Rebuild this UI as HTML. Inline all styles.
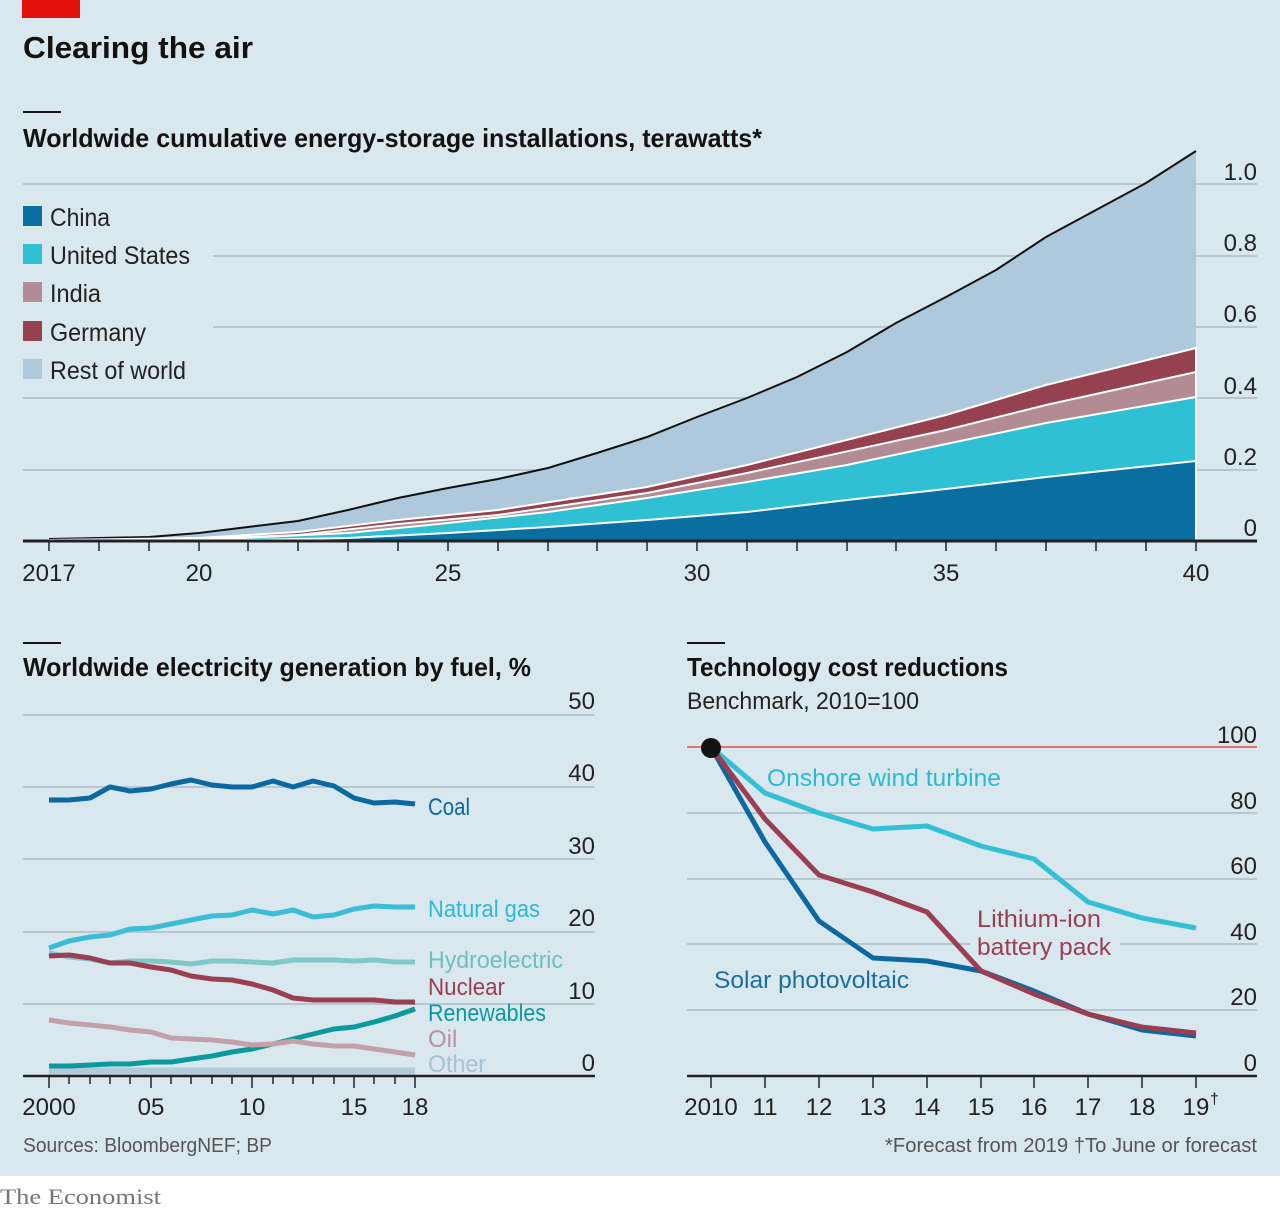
<!DOCTYPE html>
<html><head><meta charset="utf-8"><style>
html,body{margin:0;padding:0;background:#fff}
svg{display:block}
text{font-family:"Liberation Sans",sans-serif}
</style></head><body>
<svg width="1280" height="1212" viewBox="0 0 1280 1212" xmlns="http://www.w3.org/2000/svg">
<rect x="0" y="0" width="1280" height="1176" fill="#d9e7ef"/>
<rect x="22" y="0" width="58" height="18" fill="#e3120b"/>
<text x="23" y="58" font-size="31" font-weight="bold" fill="#121212" textLength="230" lengthAdjust="spacingAndGlyphs">Clearing the air</text>
<rect x="23" y="111" width="38" height="2" fill="#121212"/>
<text x="23" y="147" font-size="26" font-weight="bold" fill="#121212" textLength="739" lengthAdjust="spacingAndGlyphs">Worldwide cumulative energy-storage installations, terawatts*</text>

<g stroke="#b7c6cf" stroke-width="2">
<line x1="23" y1="184" x2="1257" y2="184"/>
<line x1="213" y1="256" x2="1257" y2="256"/>
<line x1="213" y1="327" x2="1257" y2="327"/>
<line x1="23" y1="398" x2="1257" y2="398"/>
<line x1="23" y1="470" x2="1257" y2="470"/>
</g>
<polygon fill="#aec9db" points="49,541 49,539 99,538 149,537 199,533 248,527 298,521 348,510 398,498 448,488 498,479 548,468 597,453 647,437 697,417 747,398 797,377 847,352 896,323 946,297 996,270 1046,237 1096,210 1146,183 1196,151 1196,541"/>
<polyline fill="none" stroke="#111" stroke-width="2" points="49,539 99,538 149,537 199,533 248,527 298,521 348,510 398,498 448,488 498,479 548,468 597,453 647,437 697,417 747,398 797,377 847,352 896,323 946,297 996,270 1046,237 1096,210 1146,183 1196,151"/>
<polygon fill="#95414f" stroke="#fff" stroke-width="2" points="49,541 49,540 199,538 298,532 398,520 498,510 647,487 747,465 946,415 1046,385 1196,348 1196,541"/>
<polygon fill="#b28b94" stroke="#fff" stroke-width="2" points="49,541 49,540 199,539 298,535 398,524 498,515 647,493 747,473 946,430 1046,405 1196,372 1196,541"/>
<polygon fill="#2fc0d3" stroke="#fff" stroke-width="2" points="49,541 199,540 348,533 448,523 548,512 647,498 747,482 847,465 946,444 1046,423 1196,397 1196,541"/>
<polygon fill="#0a6ea1" stroke="#fff" stroke-width="2" points="49,541 248,540 348,538 448,533 548,527 647,520 747,512 847,500 946,489 1046,477 1196,461 1196,541"/>
<line x1="23" y1="541" x2="1257" y2="541" stroke="#222" stroke-width="3"/>
<g stroke="#222" stroke-width="1.5">
<line x1="49" y1="541" x2="49" y2="551"/><line x1="99" y1="541" x2="99" y2="551"/><line x1="149" y1="541" x2="149" y2="551"/><line x1="199" y1="541" x2="199" y2="551"/><line x1="248" y1="541" x2="248" y2="551"/><line x1="298" y1="541" x2="298" y2="551"/><line x1="348" y1="541" x2="348" y2="551"/><line x1="398" y1="541" x2="398" y2="551"/><line x1="448" y1="541" x2="448" y2="551"/><line x1="498" y1="541" x2="498" y2="551"/><line x1="548" y1="541" x2="548" y2="551"/><line x1="597" y1="541" x2="597" y2="551"/><line x1="647" y1="541" x2="647" y2="551"/><line x1="697" y1="541" x2="697" y2="551"/><line x1="747" y1="541" x2="747" y2="551"/><line x1="797" y1="541" x2="797" y2="551"/><line x1="847" y1="541" x2="847" y2="551"/><line x1="896" y1="541" x2="896" y2="551"/><line x1="946" y1="541" x2="946" y2="551"/><line x1="996" y1="541" x2="996" y2="551"/><line x1="1046" y1="541" x2="1046" y2="551"/><line x1="1096" y1="541" x2="1096" y2="551"/><line x1="1146" y1="541" x2="1146" y2="551"/><line x1="1196" y1="541" x2="1196" y2="551"/>
</g>
<g font-size="24" fill="#222" text-anchor="end">
<text x="1257" y="180">1.0</text><text x="1257" y="251">0.8</text><text x="1257" y="322">0.6</text><text x="1257" y="394">0.4</text><text x="1257" y="465">0.2</text><text x="1257" y="536">0</text>
</g>
<g font-size="24" fill="#222" text-anchor="middle">
<text x="49" y="581">2017</text><text x="199" y="581">20</text><text x="448" y="581">25</text><text x="697" y="581">30</text><text x="946" y="581">35</text><text x="1196" y="581">40</text>
</g>
<rect x="23" y="206" width="19" height="20" fill="#0a6ea1"/>
<rect x="23" y="244" width="19" height="20" fill="#2fc0d3"/>
<rect x="23" y="282" width="19" height="20" fill="#b28b94"/>
<rect x="23" y="321" width="19" height="20" fill="#95414f"/>
<rect x="23" y="359" width="19" height="20" fill="#aec9db"/>
<g font-size="25" fill="#222">
<text x="50" y="226" textLength="60" lengthAdjust="spacingAndGlyphs">China</text>
<text x="50" y="264" textLength="140" lengthAdjust="spacingAndGlyphs">United States</text>
<text x="50" y="302" textLength="51" lengthAdjust="spacingAndGlyphs">India</text>
<text x="50" y="341" textLength="96" lengthAdjust="spacingAndGlyphs">Germany</text>
<text x="50" y="379" textLength="136" lengthAdjust="spacingAndGlyphs">Rest of world</text>
</g>

<rect x="23" y="642" width="38" height="2" fill="#121212"/>
<text x="23" y="676" font-size="26" font-weight="bold" fill="#121212" textLength="508" lengthAdjust="spacingAndGlyphs">Worldwide electricity generation by fuel, %</text>
<g stroke="#b7c6cf" stroke-width="2">
<line x1="23" y1="715" x2="595" y2="715"/><line x1="23" y1="787" x2="595" y2="787"/><line x1="23" y1="859" x2="595" y2="859"/><line x1="23" y1="932" x2="595" y2="932"/><line x1="23" y1="1004" x2="595" y2="1004"/>
</g>
<g font-size="24" fill="#222" text-anchor="end">
<text x="595" y="709">50</text><text x="595" y="781">40</text><text x="595" y="854">30</text><text x="595" y="926">20</text><text x="595" y="999">10</text><text x="595" y="1071">0</text>
</g>
<g fill="none" stroke-width="5" stroke-linejoin="round">
<polyline stroke="#b3cbd9" stroke-width="7" points="49,1071 415,1071"/>
<polyline stroke="#0b9a9b" points="49,1066 69,1066 90,1065 110,1064 130,1064 151,1062 171,1062 191,1059 212,1056 232,1052 252,1049 273,1044 293,1039 313,1034 334,1029 354,1027 374,1022 395,1016 415,1009"/>
<polyline stroke="#c4a0a9" points="49,1020 69,1023 90,1025 110,1027 130,1030 151,1032 171,1038 191,1039 212,1040 232,1042 252,1045 273,1044 293,1041 313,1044 334,1046 354,1046 374,1049 395,1052 415,1055"/>
<polyline stroke="#7fc9c8" points="49,953 69,957 90,959 110,963 130,961 151,961 171,962 191,964 212,961 232,961 252,962 273,963 293,960 313,960 334,960 354,961 374,960 395,962 415,962"/>
<polyline stroke="#9a3f52" points="49,956 69,955 90,958 110,963 130,963 151,967 171,970 191,976 212,979 232,980 252,984 273,990 293,998 313,1000 334,1000 354,1000 374,1000 395,1002 415,1002"/>
<polyline stroke="#3bbdd7" points="49,948 69,941 90,937 110,935 130,929 151,928 171,924 191,920 212,916 232,915 252,910 273,914 293,910 313,917 334,915 354,909 374,906 395,907 415,907"/>
<polyline stroke="#0b68a0" points="49,800 69,800 90,798 110,787 130,791 151,789 171,784 191,780 212,785 232,787 252,787 273,781 293,787 313,781 334,786 354,798 374,803 395,802 415,804"/>
</g>
<g font-size="24" lengthAdjust="spacingAndGlyphs">
<text x="428" y="815" fill="#0b68a0" textLength="42" lengthAdjust="spacingAndGlyphs">Coal</text>
<text x="428" y="917" fill="#2bbad4" textLength="112" lengthAdjust="spacingAndGlyphs">Natural gas</text>
<text x="428" y="968" fill="#6fbfbe" textLength="135" lengthAdjust="spacingAndGlyphs">Hydroelectric</text>
<text x="428" y="995" fill="#9a3f52" textLength="77" lengthAdjust="spacingAndGlyphs">Nuclear</text>
<text x="428" y="1021" fill="#0b9a9b" textLength="118" lengthAdjust="spacingAndGlyphs">Renewables</text>
<text x="428" y="1047" fill="#b8919a">Oil</text>
<text x="428" y="1072" fill="#a8c2d1" textLength="58" lengthAdjust="spacingAndGlyphs">Other</text>
</g>
<line x1="23" y1="1076" x2="595" y2="1076" stroke="#222" stroke-width="2.5"/>
<g stroke="#222" stroke-width="1.5">
<line x1="49" y1="1076" x2="49" y2="1088"/><line x1="69" y1="1076" x2="69" y2="1084"/><line x1="90" y1="1076" x2="90" y2="1084"/><line x1="110" y1="1076" x2="110" y2="1084"/><line x1="130" y1="1076" x2="130" y2="1084"/><line x1="151" y1="1076" x2="151" y2="1088"/><line x1="171" y1="1076" x2="171" y2="1084"/><line x1="191" y1="1076" x2="191" y2="1084"/><line x1="212" y1="1076" x2="212" y2="1084"/><line x1="232" y1="1076" x2="232" y2="1084"/><line x1="252" y1="1076" x2="252" y2="1088"/><line x1="273" y1="1076" x2="273" y2="1084"/><line x1="293" y1="1076" x2="293" y2="1084"/><line x1="313" y1="1076" x2="313" y2="1084"/><line x1="334" y1="1076" x2="334" y2="1084"/><line x1="354" y1="1076" x2="354" y2="1088"/><line x1="374" y1="1076" x2="374" y2="1084"/><line x1="395" y1="1076" x2="395" y2="1084"/><line x1="415" y1="1076" x2="415" y2="1088"/>
</g>
<g font-size="24" fill="#222" text-anchor="middle">
<text x="49" y="1115">2000</text><text x="151" y="1115">05</text><text x="252" y="1115">10</text><text x="354" y="1115">15</text><text x="415" y="1115">18</text>
</g>

<rect x="687" y="642" width="38" height="2" fill="#121212"/>
<text x="687" y="676" font-size="26" font-weight="bold" fill="#121212" textLength="321" lengthAdjust="spacingAndGlyphs">Technology cost reductions</text>
<text x="687" y="709" font-size="24" fill="#222" textLength="232" lengthAdjust="spacingAndGlyphs">Benchmark, 2010=100</text>
<g stroke="#b7c6cf" stroke-width="2">
<line x1="687" y1="813" x2="1257" y2="813"/><line x1="687" y1="879" x2="1257" y2="879"/><line x1="687" y1="944" x2="1257" y2="944"/><line x1="687" y1="1010" x2="1257" y2="1010"/>
</g>
<line x1="687" y1="747" x2="1257" y2="747" stroke="#e5736f" stroke-width="2"/>
<g font-size="24" fill="#222" text-anchor="end">
<text x="1257" y="743">100</text><text x="1257" y="809">80</text><text x="1257" y="874">60</text><text x="1257" y="940">40</text><text x="1257" y="1005">20</text><text x="1257" y="1071">0</text>
</g>
<rect x="970" y="905" width="150" height="56" fill="#d9e7ef"/>
<g fill="none" stroke-width="5" stroke-linejoin="round">
<polyline stroke="#34c0d4" points="711,747 765,793 819,813 873,829 927,826 981,846 1034,859 1088,902 1142,918 1196,928"/>
<polyline stroke="#0b68a0" points="711,747 765,842 819,921 873,958 927,961 981,971 1034,991 1088,1014 1142,1030 1196,1036"/>
<polyline stroke="#9a3f52" points="711,747 765,819 819,875 873,892 927,912 981,971 1034,994 1088,1014 1142,1027 1196,1033"/>
</g>
<circle cx="711" cy="748" r="10" fill="#111"/>
<g font-size="24">
<text x="767" y="786" fill="#2bbad0" textLength="234" lengthAdjust="spacingAndGlyphs">Onshore wind turbine</text>
<text x="977" y="927" fill="#9a3f52" textLength="124" lengthAdjust="spacingAndGlyphs">Lithium-ion</text>
<text x="977" y="955" fill="#9a3f52" textLength="134" lengthAdjust="spacingAndGlyphs">battery pack</text>
<text x="714" y="988" fill="#1a6fa0" textLength="195" lengthAdjust="spacingAndGlyphs">Solar photovoltaic</text>
</g>
<line x1="687" y1="1076" x2="1257" y2="1076" stroke="#222" stroke-width="2.5"/>
<g stroke="#222" stroke-width="1.5">
<line x1="711" y1="1076" x2="711" y2="1088"/><line x1="765" y1="1076" x2="765" y2="1088"/><line x1="819" y1="1076" x2="819" y2="1088"/><line x1="873" y1="1076" x2="873" y2="1088"/><line x1="927" y1="1076" x2="927" y2="1088"/><line x1="981" y1="1076" x2="981" y2="1088"/><line x1="1034" y1="1076" x2="1034" y2="1088"/><line x1="1088" y1="1076" x2="1088" y2="1088"/><line x1="1142" y1="1076" x2="1142" y2="1088"/><line x1="1196" y1="1076" x2="1196" y2="1088"/>
</g>
<g font-size="24" fill="#222" text-anchor="middle">
<text x="711" y="1115">2010</text><text x="765" y="1115">11</text><text x="819" y="1115">12</text><text x="873" y="1115">13</text><text x="927" y="1115">14</text><text x="981" y="1115">15</text><text x="1034" y="1115">16</text><text x="1088" y="1115">17</text><text x="1142" y="1115">18</text><text x="1196" y="1115">19</text>
</g>
<text x="1210" y="1104" font-size="16" fill="#222">†</text>

<text x="23" y="1152" font-size="20" fill="#555" textLength="249" lengthAdjust="spacingAndGlyphs">Sources: BloombergNEF; BP</text>
<text x="1257" y="1152" font-size="20" fill="#555" text-anchor="end" textLength="372" lengthAdjust="spacingAndGlyphs">*Forecast from 2019   †To June or forecast</text>
<text x="0" y="1204" font-size="22" fill="#777" style="font-family:'Liberation Serif',serif" textLength="161" lengthAdjust="spacingAndGlyphs">The Economist</text>
</svg>
</body></html>
